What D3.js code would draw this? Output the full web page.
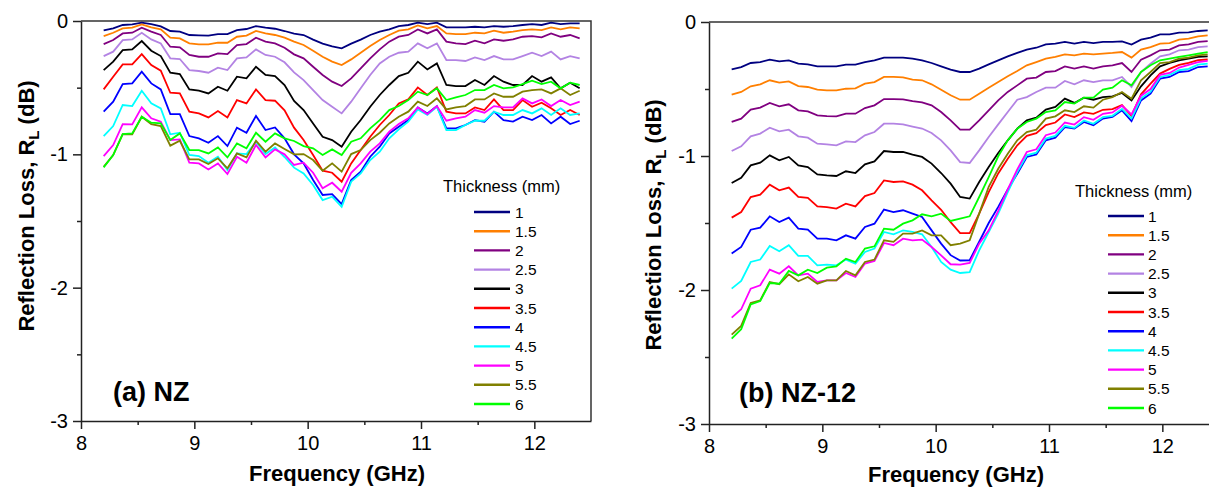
<!DOCTYPE html>
<html>
<head>
<meta charset="utf-8">
<script src="https://cdn.jsdelivr.net/npm/d3@7"></script>
<style>
  html, body { margin: 0; padding: 0; background: #fff; }
  svg { display: block; font-family: "Liberation Sans", Arial, sans-serif; }
</style>
</head>
<body>
<div id="chart"></div>
<script>
// measurement frequencies (GHz), X-band 8.2 - 12.4
const freq = [8.200, 8.284, 8.368, 8.452, 8.536, 8.620, 8.704, 8.788, 8.872, 8.956,
  9.040, 9.124, 9.208, 9.292, 9.376, 9.460, 9.544, 9.628, 9.712, 9.796,
  9.880, 9.964, 10.048, 10.132, 10.216, 10.300, 10.384, 10.468, 10.552, 10.636,
  10.720, 10.804, 10.888, 10.972, 11.056, 11.140, 11.224, 11.308, 11.392, 11.476,
  11.560, 11.644, 11.728, 11.812, 11.896, 11.980, 12.064, 12.148, 12.232, 12.316, 12.400];

const thickness = ["1", "1.5", "2", "2.5", "3", "3.5", "4", "4.5", "5", "5.5", "6"];
const colors = ["#000080", "#ff7f00", "#800080", "#b383e3", "#000000", "#ff0000",
  "#0000ff", "#00ffff", "#ff00ff", "#808000", "#00ff00"];

const xTicks = [8, 9, 10, 11, 12];
const yTicks = [0, -1, -2, -3];

// (a) NZ : reflection loss (dB), one row per thickness
const nzLoss = [
  [-0.07, -0.055, -0.03, -0.025, -0.013, -0.023, -0.04, -0.075, -0.08, -0.105, -0.108, -0.11, -0.098, -0.098, -0.068, -0.06, -0.038, -0.05, -0.058, -0.075, -0.095, -0.105, -0.14, -0.17, -0.19, -0.205, -0.17, -0.14, -0.105, -0.08, -0.063, -0.038, -0.03, -0.013, -0.023, -0.013, -0.048, -0.048, -0.048, -0.043, -0.048, -0.038, -0.043, -0.038, -0.03, -0.023, -0.03, -0.013, -0.023, -0.018, -0.018],
  [-0.113, -0.088, -0.055, -0.05, -0.025, -0.048, -0.063, -0.125, -0.13, -0.168, -0.175, -0.175, -0.163, -0.163, -0.118, -0.11, -0.075, -0.093, -0.105, -0.125, -0.155, -0.18, -0.223, -0.268, -0.305, -0.33, -0.288, -0.238, -0.188, -0.143, -0.105, -0.073, -0.063, -0.033, -0.055, -0.038, -0.093, -0.098, -0.098, -0.088, -0.093, -0.073, -0.088, -0.08, -0.068, -0.063, -0.068, -0.048, -0.063, -0.048, -0.055],
  [-0.173, -0.143, -0.093, -0.088, -0.05, -0.08, -0.105, -0.193, -0.198, -0.255, -0.268, -0.268, -0.243, -0.248, -0.18, -0.173, -0.125, -0.155, -0.168, -0.2, -0.25, -0.28, -0.343, -0.405, -0.455, -0.488, -0.43, -0.355, -0.28, -0.213, -0.155, -0.118, -0.105, -0.063, -0.093, -0.063, -0.155, -0.168, -0.173, -0.148, -0.168, -0.138, -0.148, -0.138, -0.118, -0.113, -0.123, -0.093, -0.118, -0.105, -0.13],
  [-0.263, -0.23, -0.143, -0.138, -0.088, -0.138, -0.168, -0.28, -0.285, -0.368, -0.375, -0.388, -0.35, -0.368, -0.28, -0.273, -0.213, -0.255, -0.268, -0.31, -0.385, -0.443, -0.518, -0.593, -0.643, -0.693, -0.605, -0.505, -0.405, -0.318, -0.268, -0.238, -0.23, -0.168, -0.205, -0.168, -0.293, -0.293, -0.3, -0.273, -0.293, -0.263, -0.288, -0.288, -0.263, -0.238, -0.263, -0.23, -0.288, -0.263, -0.28],
  [-0.368, -0.305, -0.218, -0.213, -0.15, -0.223, -0.263, -0.388, -0.398, -0.513, -0.523, -0.543, -0.493, -0.523, -0.418, -0.43, -0.343, -0.405, -0.413, -0.48, -0.6, -0.668, -0.768, -0.868, -0.893, -0.943, -0.83, -0.743, -0.643, -0.555, -0.48, -0.413, -0.388, -0.305, -0.363, -0.318, -0.48, -0.488, -0.488, -0.443, -0.48, -0.413, -0.455, -0.48, -0.48, -0.413, -0.455, -0.423, -0.505, -0.463, -0.505],
  [-0.513, -0.418, -0.325, -0.325, -0.248, -0.33, -0.373, -0.538, -0.543, -0.68, -0.693, -0.723, -0.675, -0.723, -0.593, -0.618, -0.513, -0.593, -0.598, -0.67, -0.8, -0.893, -1.005, -1.123, -1.138, -1.205, -1.068, -0.968, -0.868, -0.78, -0.705, -0.618, -0.588, -0.498, -0.555, -0.498, -0.68, -0.693, -0.693, -0.648, -0.668, -0.588, -0.668, -0.668, -0.593, -0.643, -0.613, -0.655, -0.705, -0.668, -0.705],
  [-0.68, -0.605, -0.473, -0.468, -0.38, -0.468, -0.513, -0.698, -0.698, -0.863, -0.88, -0.913, -0.863, -0.938, -0.8, -0.838, -0.713, -0.818, -0.798, -0.88, -1.0, -1.068, -1.193, -1.305, -1.298, -1.373, -1.193, -1.13, -1.018, -0.943, -0.843, -0.793, -0.743, -0.648, -0.693, -0.638, -0.805, -0.805, -0.78, -0.743, -0.755, -0.68, -0.743, -0.755, -0.718, -0.743, -0.705, -0.768, -0.718, -0.773, -0.748],
  [-0.863, -0.788, -0.63, -0.638, -0.523, -0.618, -0.655, -0.85, -0.838, -1.005, -1.013, -1.063, -1.018, -1.118, -0.993, -0.998, -0.905, -0.998, -0.948, -1.02, -1.1, -1.143, -1.23, -1.343, -1.318, -1.393, -1.205, -1.143, -1.043, -0.98, -0.88, -0.813, -0.755, -0.663, -0.705, -0.643, -0.818, -0.818, -0.78, -0.748, -0.748, -0.68, -0.705, -0.705, -0.668, -0.693, -0.655, -0.705, -0.655, -0.705, -0.693],
  [-1.013, -0.93, -0.773, -0.775, -0.648, -0.73, -0.755, -0.893, -0.888, -1.063, -1.068, -1.113, -1.068, -1.148, -1.018, -1.063, -0.93, -1.023, -0.963, -1.0, -1.08, -1.063, -1.138, -1.255, -1.213, -1.28, -1.138, -1.068, -0.98, -0.918, -0.83, -0.773, -0.73, -0.648, -0.698, -0.638, -0.748, -0.73, -0.718, -0.668, -0.688, -0.638, -0.648, -0.648, -0.58, -0.618, -0.588, -0.638, -0.593, -0.63, -0.605],
  [-1.093, -1.005, -0.848, -0.85, -0.718, -0.773, -0.788, -0.935, -0.898, -1.038, -1.038, -1.073, -1.03, -1.105, -0.993, -1.023, -0.898, -0.98, -0.918, -0.96, -1.0, -0.998, -1.043, -1.123, -1.068, -1.13, -0.998, -0.968, -0.893, -0.838, -0.768, -0.718, -0.68, -0.605, -0.638, -0.58, -0.663, -0.648, -0.638, -0.588, -0.588, -0.543, -0.568, -0.568, -0.53, -0.518, -0.513, -0.543, -0.505, -0.555, -0.523],
  [-1.098, -1.005, -0.848, -0.843, -0.718, -0.763, -0.768, -0.893, -0.843, -0.968, -0.968, -0.993, -0.948, -1.023, -0.918, -0.955, -0.838, -0.905, -0.843, -0.88, -0.9, -0.938, -0.955, -1.005, -0.963, -1.005, -0.905, -0.88, -0.805, -0.743, -0.668, -0.638, -0.593, -0.53, -0.555, -0.505, -0.593, -0.573, -0.555, -0.518, -0.518, -0.48, -0.505, -0.498, -0.473, -0.448, -0.473, -0.455, -0.505, -0.463, -0.48]
];

// (b) NZ-12 : reflection loss (dB), one row per thickness
const nz12Loss = [
  [-0.353, -0.336, -0.306, -0.299, -0.281, -0.294, -0.286, -0.311, -0.316, -0.331, -0.331, -0.331, -0.318, -0.318, -0.299, -0.286, -0.266, -0.266, -0.266, -0.274, -0.286, -0.306, -0.331, -0.356, -0.373, -0.373, -0.348, -0.316, -0.286, -0.256, -0.231, -0.206, -0.192, -0.167, -0.162, -0.149, -0.162, -0.149, -0.157, -0.149, -0.149, -0.144, -0.169, -0.132, -0.117, -0.092, -0.092, -0.08, -0.077, -0.067, -0.062],
  [-0.542, -0.522, -0.48, -0.465, -0.435, -0.453, -0.443, -0.478, -0.485, -0.505, -0.51, -0.51, -0.498, -0.495, -0.46, -0.448, -0.41, -0.41, -0.413, -0.43, -0.435, -0.465, -0.505, -0.547, -0.58, -0.58, -0.535, -0.49, -0.448, -0.405, -0.366, -0.323, -0.299, -0.274, -0.261, -0.241, -0.249, -0.236, -0.241, -0.236, -0.231, -0.224, -0.266, -0.206, -0.187, -0.162, -0.157, -0.132, -0.124, -0.107, -0.1],
  [-0.746, -0.721, -0.654, -0.639, -0.604, -0.629, -0.614, -0.659, -0.667, -0.697, -0.702, -0.704, -0.684, -0.684, -0.642, -0.622, -0.575, -0.575, -0.577, -0.59, -0.6, -0.622, -0.672, -0.734, -0.803, -0.803, -0.734, -0.659, -0.585, -0.522, -0.473, -0.423, -0.415, -0.373, -0.366, -0.331, -0.348, -0.331, -0.348, -0.331, -0.323, -0.306, -0.373, -0.281, -0.249, -0.211, -0.206, -0.174, -0.167, -0.149, -0.142],
  [-0.963, -0.928, -0.853, -0.833, -0.789, -0.816, -0.804, -0.853, -0.863, -0.908, -0.913, -0.92, -0.891, -0.896, -0.846, -0.821, -0.759, -0.759, -0.764, -0.78, -0.795, -0.828, -0.883, -0.958, -1.045, -1.052, -0.958, -0.858, -0.764, -0.672, -0.58, -0.56, -0.522, -0.49, -0.49, -0.44, -0.465, -0.435, -0.448, -0.435, -0.435, -0.41, -0.485, -0.373, -0.311, -0.256, -0.241, -0.211, -0.206, -0.187, -0.182],
  [-1.201, -1.162, -1.07, -1.05, -0.995, -1.032, -1.007, -1.07, -1.082, -1.137, -1.144, -1.149, -1.114, -1.127, -1.062, -1.04, -0.963, -0.97, -0.97, -0.99, -1.007, -1.057, -1.127, -1.206, -1.306, -1.318, -1.194, -1.082, -0.978, -0.883, -0.796, -0.734, -0.714, -0.654, -0.634, -0.572, -0.604, -0.565, -0.58, -0.56, -0.555, -0.53, -0.585, -0.48, -0.398, -0.331, -0.306, -0.286, -0.274, -0.261, -0.256],
  [-1.46, -1.418, -1.306, -1.289, -1.214, -1.256, -1.236, -1.306, -1.313, -1.376, -1.381, -1.393, -1.356, -1.376, -1.299, -1.276, -1.182, -1.194, -1.189, -1.214, -1.256, -1.331, -1.401, -1.493, -1.575, -1.575, -1.43, -1.27, -1.13, -1.02, -0.92, -0.85, -0.83, -0.77, -0.75, -0.69, -0.71, -0.675, -0.685, -0.655, -0.65, -0.62, -0.7, -0.54, -0.46, -0.385, -0.35, -0.32, -0.305, -0.285, -0.28],
  [-1.728, -1.679, -1.55, -1.535, -1.45, -1.493, -1.46, -1.542, -1.55, -1.617, -1.617, -1.629, -1.592, -1.617, -1.53, -1.505, -1.4, -1.418, -1.405, -1.43, -1.455, -1.555, -1.654, -1.74, -1.78, -1.778, -1.64, -1.5, -1.38, -1.25, -1.132, -1.007, -0.988, -0.883, -0.863, -0.784, -0.796, -0.746, -0.771, -0.721, -0.709, -0.659, -0.739, -0.585, -0.535, -0.423, -0.41, -0.373, -0.366, -0.336, -0.331],
  [-1.99, -1.933, -1.791, -1.773, -1.671, -1.711, -1.666, -1.746, -1.746, -1.816, -1.811, -1.816, -1.773, -1.803, -1.716, -1.691, -1.567, -1.584, -1.555, -1.567, -1.584, -1.679, -1.791, -1.848, -1.873, -1.866, -1.704, -1.567, -1.43, -1.27, -1.12, -0.995, -0.975, -0.87, -0.85, -0.775, -0.79, -0.735, -0.76, -0.71, -0.7, -0.648, -0.72, -0.57, -0.52, -0.41, -0.395, -0.36, -0.35, -0.318, -0.31],
  [-2.206, -2.144, -1.99, -1.965, -1.848, -1.878, -1.823, -1.891, -1.878, -1.94, -1.928, -1.928, -1.873, -1.903, -1.803, -1.783, -1.649, -1.666, -1.617, -1.629, -1.624, -1.679, -1.741, -1.808, -1.811, -1.798, -1.654, -1.555, -1.41, -1.25, -1.1, -0.97, -0.95, -0.845, -0.825, -0.75, -0.765, -0.71, -0.73, -0.685, -0.675, -0.625, -0.69, -0.55, -0.5, -0.395, -0.38, -0.34, -0.32, -0.3, -0.29],
  [-2.333, -2.268, -2.097, -2.077, -1.94, -1.957, -1.883, -1.935, -1.903, -1.953, -1.928, -1.928, -1.858, -1.891, -1.791, -1.773, -1.629, -1.641, -1.579, -1.579, -1.555, -1.592, -1.592, -1.666, -1.654, -1.629, -1.43, -1.23, -1.095, -0.983, -0.883, -0.821, -0.803, -0.721, -0.704, -0.659, -0.672, -0.629, -0.639, -0.58, -0.56, -0.522, -0.572, -0.435, -0.373, -0.306, -0.299, -0.274, -0.266, -0.249, -0.241],
  [-2.363, -2.293, -2.107, -2.082, -1.948, -1.953, -1.858, -1.891, -1.848, -1.873, -1.833, -1.823, -1.766, -1.791, -1.691, -1.674, -1.542, -1.55, -1.505, -1.48, -1.435, -1.45, -1.43, -1.485, -1.468, -1.45, -1.306, -1.157, -1.002, -0.883, -0.796, -0.746, -0.721, -0.672, -0.659, -0.597, -0.609, -0.565, -0.565, -0.505, -0.49, -0.435, -0.473, -0.373, -0.323, -0.286, -0.274, -0.261, -0.249, -0.236, -0.224]
];

const width = 1209;
const height = 487;

// layout of each panel (pixel boxes, label spots)
const panels = [
  { rows: nzLoss, label: "(a) NZ", box: { l: 81, t: 21, r: 591, b: 421 },
    labelAt: [113, 401], yTitleAt: [34, 206], xTitleAt: [337, 481],
    legend: { titleX: 443, titleY: 192, lineX: 474, textX: 515, y0: 212 } },
  { rows: nz12Loss, label: "(b) NZ-12", box: { l: 709, t: 22, r: 1219, b: 424 },
    labelAt: [739, 402], yTitleAt: [661, 225], xTitleAt: [956, 482],
    legend: { titleX: 1075, titleY: 197, lineX: 1108, textX: 1148, y0: 216 } }
];

const svg = d3.select("#chart").append("svg")
  .attr("width", width)
  .attr("height", height);

panels.forEach(p => {
  const x = d3.scaleLinear().domain([8, 12.5]).range([p.box.l, p.box.r]);
  const y = d3.scaleLinear().domain([0, -3]).range([p.box.t, p.box.b]);
  const g = svg.append("g");

  // minor ticks first, then the labelled axes
  g.append("g")
    .attr("transform", `translate(0,${p.box.b})`)
    .call(d3.axisBottom(x).tickValues([8.5, 9.5, 10.5, 11.5]).tickSize(4).tickFormat(""))
    .call(a => a.select(".domain").remove());
  g.append("g")
    .attr("transform", `translate(${p.box.l},0)`)
    .call(d3.axisLeft(y).tickValues([-0.5, -1.5, -2.5]).tickSize(4).tickFormat(""))
    .call(a => a.select(".domain").remove());

  const xAxis = g.append("g")
    .attr("transform", `translate(0,${p.box.b})`)
    .call(d3.axisBottom(x).tickValues(xTicks).tickSize(8).tickSizeOuter(0).tickPadding(7).tickFormat(d => String(d)));
  const yAxis = g.append("g")
    .attr("transform", `translate(${p.box.l},0)`)
    .call(d3.axisLeft(y).tickValues(yTicks).tickSize(8).tickSizeOuter(0).tickPadding(5).tickFormat(d => String(d)));

  [xAxis, yAxis].forEach(a => {
    a.selectAll("text").attr("font-size", 20).attr("fill", "#000").attr("font-family", null);
    a.selectAll("line, path").attr("stroke", "#222").attr("stroke-width", 1.5);
  });
  g.selectAll("line").attr("stroke", "#222").attr("stroke-width", 1.5);

  // frame (top and right)
  g.append("path")
    .attr("d", `M${p.box.l},${p.box.t}H${p.box.r}V${p.box.b}`)
    .attr("fill", "none")
    .attr("stroke", "#333")
    .attr("stroke-width", 1.5);

  const line = d3.line()
    .x((d, i) => x(freq[i]))
    .y(d => y(d));

  g.selectAll("path.curve")
    .data(p.rows)
    .enter().append("path")
    .attr("class", "curve")
    .attr("fill", "none")
    .attr("stroke", (d, i) => colors[i])
    .attr("stroke-width", 1.8)
    .attr("d", line);

  // axis titles
  g.append("text")
    .attr("x", p.xTitleAt[0])
    .attr("y", p.xTitleAt[1])
    .attr("text-anchor", "middle")
    .attr("font-size", 22)
    .attr("font-weight", "bold")
    .text("Frequency (GHz)");

  const yt = g.append("text")
    .attr("transform", `translate(${p.yTitleAt[0]},${p.yTitleAt[1]}) rotate(-90)`)
    .attr("text-anchor", "middle")
    .attr("font-size", 22)
    .attr("font-weight", "bold");
  yt.append("tspan").text("Reflection Loss, R");
  yt.append("tspan").attr("font-size", 15).attr("dy", 5).text("L");
  yt.append("tspan").attr("dy", -5).text(" (dB)");

  g.append("text")
    .attr("x", p.labelAt[0])
    .attr("y", p.labelAt[1])
    .attr("font-size", 27)
    .attr("font-weight", "bold")
    .text(p.label);

  // legend
  const lg = g.append("g");
  lg.append("text")
    .attr("x", p.legend.titleX)
    .attr("y", p.legend.titleY)
    .attr("font-size", 16.5)
    .text("Thickness (mm)");

  const item = lg.selectAll("g.item")
    .data(thickness)
    .enter().append("g")
    .attr("class", "item")
    .attr("transform", (d, i) => `translate(0,${p.legend.y0 + i * 19.2})`);
  item.append("line")
    .attr("x1", p.legend.lineX)
    .attr("x2", p.legend.lineX + 36)
    .attr("stroke", (d, i) => colors[i])
    .attr("stroke-width", 2.4);
  item.append("text")
    .attr("x", p.legend.textX)
    .attr("y", 5.5)
    .attr("font-size", 15.5)
    .text(d => d);
});
</script>
</body>
</html>
